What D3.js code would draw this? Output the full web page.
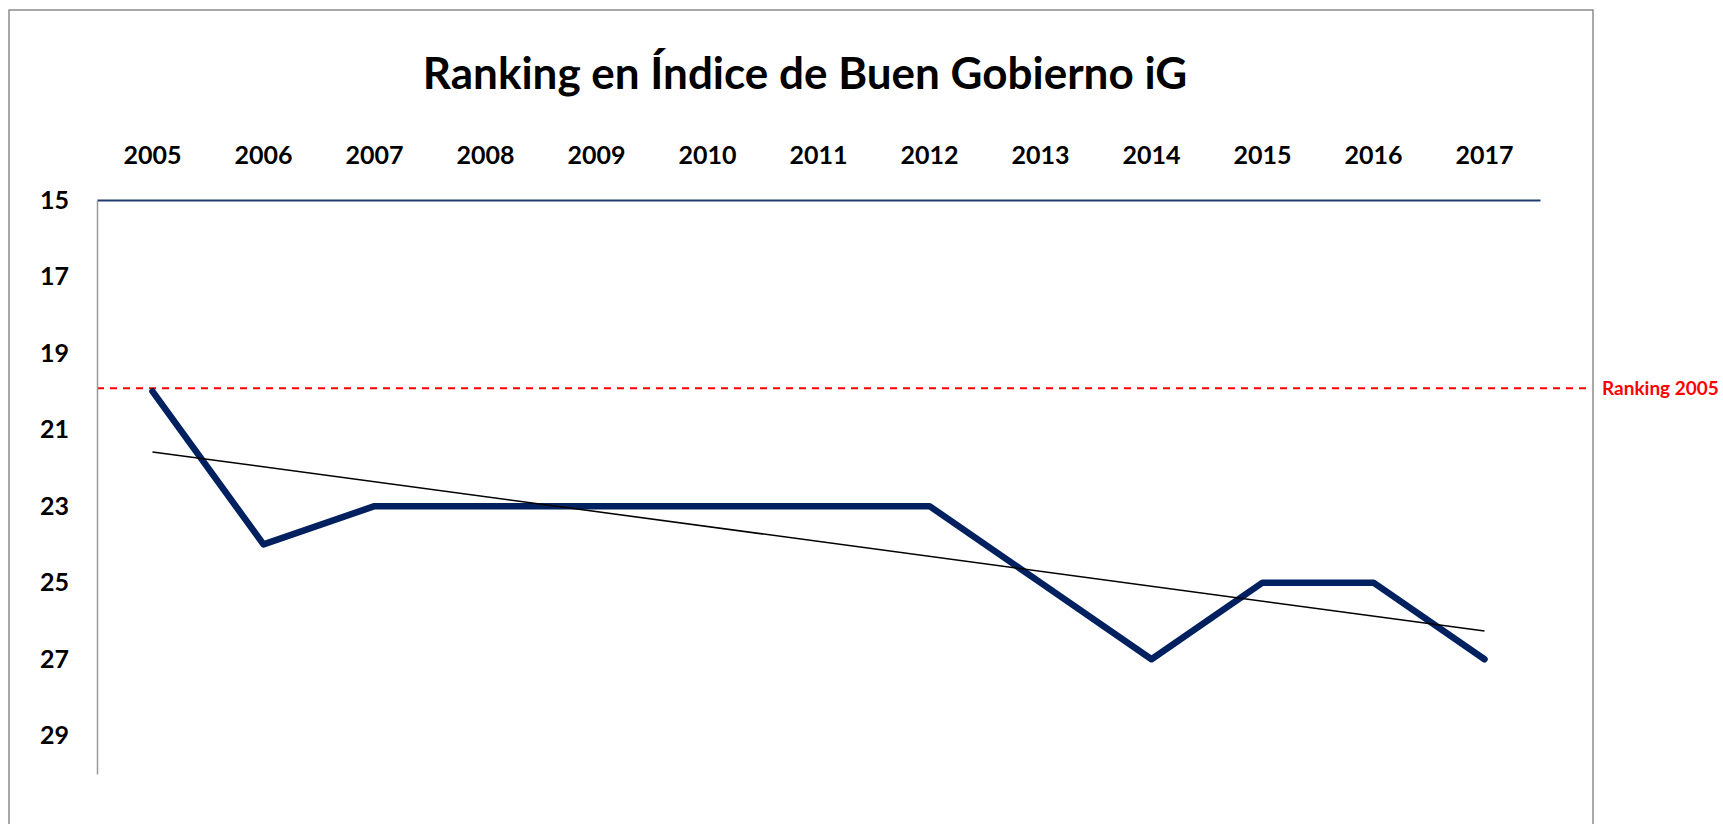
<!DOCTYPE html>
<html lang="es">
<head>
<meta charset="UTF-8"/>
<title>Ranking iG</title>
<script src="https://d3js.org/d3.v7.min.js"></script>
<style>
  body { margin: 0; background: #fff; }
  text { font-family: Lato, "Open Sans", sans-serif; font-weight: bold; }
</style>
</head>
<body>
<div id="chart"></div>
<script>
// data
var years = ["2005", "2006", "2007", "2008", "2009", "2010", "2011", "2012", "2013", "2014", "2015", "2016", "2017"];
var ranking = [20, 24, 23, 23, 23, 23, 23, 23, 25, 27, 25, 25, 27];
var yTicks = [15, 17, 19, 21, 23, 25, 27, 29];
var reference = 20; // Ranking 2005
var refLabel = "Ranking 2005";
var title = "Ranking en Índice de Buen Gobierno iG";

var W = 1723, H = 824;
var margin = {top: 200, left: 97, right: 183, bottom: 50};

var svg = d3.select("#chart").append("svg")
    .attr("width", W)
    .attr("height", H);

// chart frame (open at the bottom, like the screenshot)
svg.append("rect")
    .attr("x", 9).attr("y", 10)
    .attr("width", 1584).attr("height", 900)
    .attr("fill", "none")
    .attr("stroke", "#8c8c8c")
    .attr("stroke-width", 1.5);

svg.append("text")
    .attr("x", 805).attr("y", 89)
    .attr("text-anchor", "middle")
    .style("font-size", "44px")
    .text(title);

// scales
var x = d3.scaleBand()
    .domain(years)
    .range([margin.left, W - margin.right]);

var y = d3.scaleLinear()
    .domain([15, 30])
    .range([margin.top, H - margin.bottom]);

// reference line
svg.append("line")
    .attr("x1", margin.left).attr("x2", 1592)
    .attr("y1", y(reference) - 3).attr("y2", y(reference) - 3)
    .attr("stroke", "#ff0000")
    .attr("stroke-width", 2)
    .attr("stroke-dasharray", "7,6");

svg.append("text")
    .attr("x", 1602).attr("y", y(reference) - 3)
    .attr("dy", "0.35em")
    .attr("fill", "#ff0000")
    .style("font-size", "19px")
    .text(refLabel);

// x axis on top (reversed y axis crosses at 15)
var xAxis = svg.append("g")
    .attr("transform", "translate(0," + y(15) + ")")
    .call(d3.axisTop(x).tickSize(0).tickPadding(36));
xAxis.select(".domain").attr("stroke", "#1f3a6e").attr("stroke-width", 2);
xAxis.selectAll("text")
    .style("font-size", "25px")
    .attr("fill", "#000");

// y axis
var yAxis = svg.append("g")
    .attr("transform", "translate(" + margin.left + ",0)")
    .call(d3.axisLeft(y).tickValues(yTicks).tickSize(0).tickPadding(28));
yAxis.select(".domain").attr("stroke", "#999").attr("stroke-width", 1.5);
yAxis.selectAll("text")
    .style("font-size", "25px")
    .attr("fill", "#000");

// linear trend (least squares over the series, like the spreadsheet trendline)
var n = ranking.length;
var mx = d3.mean(ranking, function(d, i) { return i; });
var my = d3.mean(ranking);
var sxy = d3.sum(ranking, function(d, i) { return (i - mx) * (d - my); });
var sxx = d3.sum(ranking, function(d, i) { return (i - mx) * (i - mx); });
var slope = sxy / sxx, icpt = my - slope * mx;
var trend = [0, n - 1].map(function(i) { return {year: years[i], v: icpt + slope * i}; });

var line = d3.line()
    .x(function(d) { return x(d.year) + x.bandwidth() / 2; })
    .y(function(d) { return y(d.v); });

var series = years.map(function(yr, i) { return {year: yr, v: ranking[i]}; });

svg.append("path")
    .datum(series)
    .attr("d", line)
    .attr("fill", "none")
    .attr("stroke", "#002060")
    .attr("stroke-width", 6.5)
    .attr("stroke-linejoin", "round")
    .attr("stroke-linecap", "round");

svg.append("path")
    .datum(trend)
    .attr("d", line)
    .attr("fill", "none")
    .attr("stroke", "#000")
    .attr("stroke-width", 1.5);
</script>
</body>
</html>
